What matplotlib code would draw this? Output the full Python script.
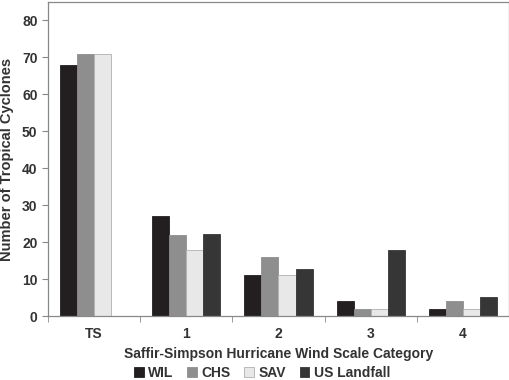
import matplotlib
matplotlib.use("Agg")
import matplotlib.pyplot as plt
import numpy as np

plt.rcParams["font.family"] = ["Liberation Sans", "DejaVu Sans"]
plt.rcParams["font.weight"] = "bold"
plt.rcParams["axes.labelweight"] = "bold"

categories = ["TS", "1", "2", "3", "4"]
series = ["WIL", "CHS", "SAV", "US Landfall"]
wil = [68, 27, 11, 4, 2]
chs = [71, 22, 16, 2, 4]
sav = [71, 18, 11, 2, 2]
landfall = [0, 22.2, 12.7, 18, 5.2]

colors = ["#231f20", "#8e8e8e", "#e8e8e8", "#363636"]
edges = ["#231f20", "#8e8e8e", "#b0b0b0", "#363636"]
txt = "#333333"

fig = plt.figure(figsize=(5.1, 3.8), dpi=100)
ax = fig.add_axes([0.094, 0.168, 0.904, 0.827])

x = np.arange(len(categories))
w = 0.185
for i, (name, vals) in enumerate(zip(series, [wil, chs, sav, landfall])):
    ax.bar(x + (i - 1.5) * w, vals, w, color=colors[i], edgecolor=edges[i],
           linewidth=0.6, label=name)

ax.set_xlim(-0.5, len(categories) - 0.5)
ax.set_ylim(0, 85)
ax.set_yticks(range(0, 81, 10))
ax.set_xticks(x)
ax.set_xticklabels(categories)
ax.set_xticks(np.arange(-0.5, len(categories)), minor=True)
ax.tick_params(axis="x", which="major", length=0, pad=8, labelsize=10, colors=txt)
ax.tick_params(axis="x", which="minor", length=4, color="#888888")
ax.tick_params(axis="y", length=4, color="#888888", labelsize=10, labelcolor=txt)
for s in ax.spines.values():
    s.set_color("#888888")
    s.set_linewidth(0.9)

ax.set_ylabel("Number of Tropical Cyclones", fontsize=10.5, color=txt, labelpad=6)
ax.set_xlabel("Saffir-Simpson Hurricane Wind Scale Category", fontsize=10,
              color=txt, labelpad=4)

fig.legend(*ax.get_legend_handles_labels(), loc="center",
           bbox_to_anchor=(0.514, 0.018), ncol=4, frameon=False,
           fontsize=10, handlelength=0.7, handleheight=0.7, handletextpad=0.3,
           columnspacing=1.0, labelcolor=txt, borderpad=0)

fig.savefig("out.png", dpi=100)
